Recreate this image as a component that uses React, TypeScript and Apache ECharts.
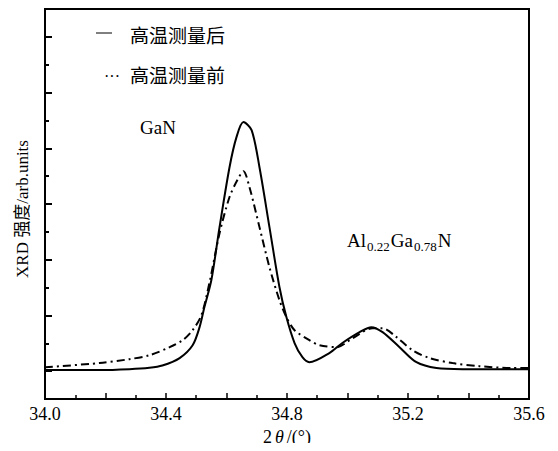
import React, { useEffect, useRef } from "react";
import * as echarts from "echarts";

// 2θ (degrees) and intensity (arb. units)
const afterX = [34.0, 34.18, 34.279, 34.345, 34.388, 34.445, 34.488, 34.511, 34.527, 34.55, 34.577, 34.61, 34.633, 34.656, 34.683, 34.709, 34.742, 34.775, 34.798, 34.825, 34.851, 34.874, 34.94, 34.983, 35.04, 35.079, 35.116, 35.172, 35.228, 35.294, 35.38, 35.6];
const afterY = [0.04, 0.04, 0.07, 0.12, 0.2, 0.47, 0.93, 1.58, 2.3, 3.27, 5.17, 7.32, 8.4, 8.94, 8.65, 7.32, 5.17, 3.02, 1.94, 1.01, 0.5, 0.32, 0.65, 1.01, 1.4, 1.58, 1.4, 0.86, 0.32, 0.11, 0.07, 0.07];

const beforeX = [34.0, 34.18, 34.279, 34.345, 34.412, 34.455, 34.488, 34.517, 34.544, 34.577, 34.61, 34.636, 34.656, 34.676, 34.709, 34.742, 34.775, 34.798, 34.825, 34.874, 34.907, 34.964, 35.017, 35.083, 35.116, 35.162, 35.215, 35.271, 35.347, 35.436, 35.545, 35.6];
const beforeY = [0.14, 0.29, 0.43, 0.57, 0.86, 1.11, 1.47, 2.01, 3.19, 4.95, 6.25, 6.86, 7.18, 6.6, 5.17, 3.73, 2.55, 1.94, 1.47, 1.11, 0.93, 0.86, 1.18, 1.54, 1.54, 1.22, 0.75, 0.47, 0.29, 0.18, 0.11, 0.11];

const xLabelValues = [34.0, 34.4, 34.8, 35.2, 35.6];
const yMajorTicks = [0, 2, 4, 6, 8, 10, 12];
const yMinorTicks = [1, 3, 5, 7, 9, 11];

const seriesNames = ["高温测量后", "高温测量前"];
const peakLabels = ["GaN", "Al0.22Ga0.78N"];
const yAxisTitle = "XRD 强度/arb.units";

const SERIF = "'Liberation Serif', 'Noto Sans CJK SC', serif";
const CJK = "'Noto Sans CJK SC', sans-serif";

export default function App() {
  const ref = useRef<HTMLDivElement>(null);
  useEffect(() => {
    if (!ref.current) return;
    const chart = echarts.init(ref.current, null, { renderer: "svg" });
    const after = afterX.map((x, i) => [x, afterY[i]]);
    const before = beforeX.map((x, i) => [x, beforeY[i]]);
    chart.setOption({
      animation: false,
      backgroundColor: "#fff",
      grid: {
        left: 45,
        right: 29,
        top: 9,
        bottom: 52,
        show: true,
        borderColor: "#000",
        borderWidth: 2,
        outerBoundsMode: "none",
        containLabel: false,
      },
      xAxis: {
        type: "value",
        min: 34.0,
        max: 35.6,
        interval: 0.2,
        axisLine: { show: true, onZero: false, lineStyle: { color: "#000", width: 2 } },
        axisTick: { show: true, inside: true, length: 6, lineStyle: { color: "#000", width: 1.5 } },
        minorTick: { show: true, splitNumber: 2, length: 4, lineStyle: { color: "#000", width: 1.5 } },
        splitLine: { show: false },
        axisLabel: {
          customValues: xLabelValues,
          formatter: (v: number) => v.toFixed(1),
          color: "#000",
          fontFamily: SERIF,
          fontSize: 18,
          margin: 6,
        },
        name: "{n|2}{i|θ}{n|/(°)}",
        nameLocation: "middle",
        nameGap: 29,
        nameTextStyle: {
          rich: {
            n: { fontFamily: SERIF, fontSize: 18, color: "#000" },
            i: { fontFamily: SERIF, fontSize: 18, fontStyle: "italic", color: "#000", padding: [0, 3, 0, 3] },
          },
        },
      },
      yAxis: [
        {
          type: "value",
          min: -1,
          max: 13,
          position: "left",
          axisLine: { show: true, onZero: false, lineStyle: { color: "#000", width: 2 } },
          axisTick: { show: true, inside: true, length: 7, customValues: yMajorTicks, lineStyle: { color: "#000", width: 2 } },
          axisLabel: { show: false },
          splitLine: { show: false },
        },
        {
          type: "value",
          min: -1,
          max: 13,
          position: "left",
          offset: 0,
          axisLine: { show: false, onZero: false },
          axisTick: { show: true, inside: true, length: 4, customValues: yMinorTicks, lineStyle: { color: "#000", width: 2 } },
          axisLabel: { show: false },
          splitLine: { show: false },
        },
      ],
      series: [
        {
          name: seriesNames[0],
          type: "line",
          data: after,
          showSymbol: false,
          smooth: 0.3,
          lineStyle: { color: "#000", width: 2, type: "solid" },
        },
        {
          name: seriesNames[1],
          type: "line",
          data: before,
          showSymbol: false,
          smooth: 0.3,
          lineStyle: { color: "#000", width: 2, type: [8, 4, 2, 4] },
        },
      ],
      graphic: [
        {
          type: "text",
          x: 22,
          y: 209,
          rotation: Math.PI / 2,
          style: { text: yAxisTitle, fontFamily: SERIF, fontSize: 17, fill: "#000", align: "center", verticalAlign: "middle" },
        },
        {
          type: "line",
          shape: { x1: 96, y1: 33, x2: 112, y2: 33 },
          style: { stroke: "#000", lineWidth: 1 },
        },
        {
          type: "text",
          x: 130,
          y: 34,
          style: { text: seriesNames[0], fontFamily: CJK, fontSize: 19, fill: "#000", verticalAlign: "middle" },
        },
        {
          type: "text",
          x: 104,
          y: 76,
          style: { text: "···", fontFamily: SERIF, fontSize: 16, fill: "#000", verticalAlign: "middle" },
        },
        {
          type: "text",
          x: 130,
          y: 74,
          style: { text: seriesNames[1], fontFamily: CJK, fontSize: 19, fill: "#000", verticalAlign: "middle" },
        },
        {
          type: "text",
          x: 140,
          y: 127,
          style: { text: peakLabels[0], fontFamily: SERIF, fontSize: 19, fill: "#000", verticalAlign: "middle" },
        },
        {
          type: "text",
          x: 347,
          y: 240,
          style: {
            text: "{m|Al}{s|0.22}{m|Ga}{s|0.78}{m|N}",
            verticalAlign: "middle",
            rich: {
              m: { fontFamily: SERIF, fontSize: 19, fill: "#000", lineHeight: 26, verticalAlign: "middle" },
              s: { fontFamily: SERIF, fontSize: 13, fill: "#000", lineHeight: 26, verticalAlign: "bottom", padding: [0, 1, 0, 1] },
            },
          },
        },
      ],
    });
    return () => chart.dispose();
  }, []);
  return <div ref={ref} style={{ width: 558, height: 451, margin: -8 }} />;
}
